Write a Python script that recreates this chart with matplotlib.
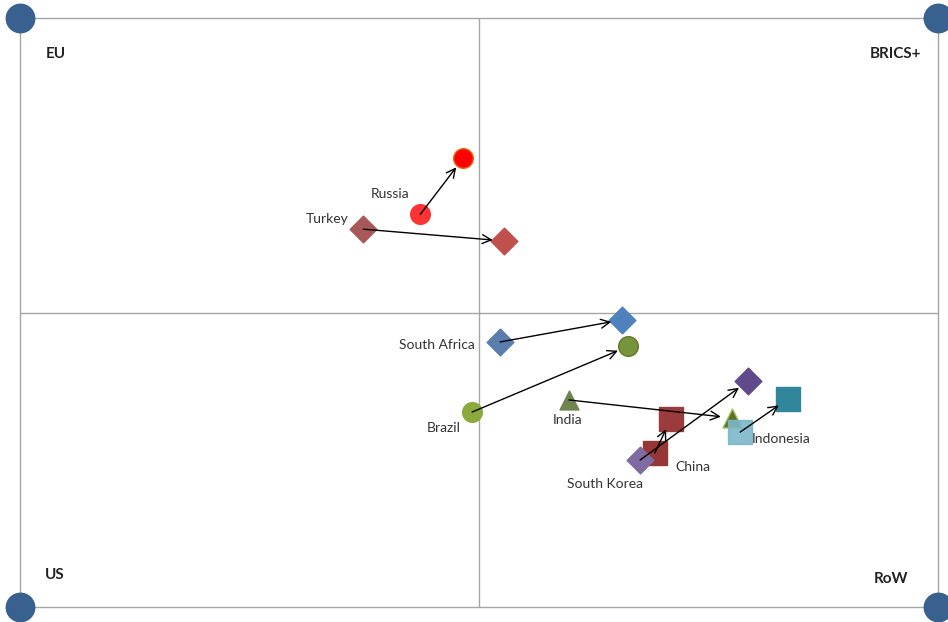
import numpy as np
import matplotlib.pyplot as plt
from matplotlib.patches import FancyArrowPatch

plt.rcParams['font.family'] = ['Lato', 'DejaVu Sans']

# country moves: start -> end, in a -1..1 square
countries = ['Russia', 'Turkey', 'South Africa', 'Brazil', 'India', 'China', 'South Korea', 'Indonesia']
x_start = [-0.128, -0.252, 0.046, -0.015, 0.196, 0.383, 0.351, 0.569]
y_start = [0.333, 0.283, -0.100, -0.338, -0.297, -0.477, -0.501, -0.406]
x_end = [-0.035, 0.054, 0.312, 0.325, 0.551, 0.418, 0.586, 0.673]
y_end = [0.523, 0.243, -0.025, -0.115, -0.358, -0.362, -0.233, -0.294]

markers = ['o', 'D', 'D', 'o', '^', 's', 'D', 's']
col_start = ['#FF3333', '#A85858', '#5A7DAE', '#8AAA3C', '#6E8550', '#953735', '#7F6AA2', '#7BB7C8']
col_end = ['#FF0000', '#C0504D', '#4F81BD', '#77933C', '#5A7228', '#9B3B3B', '#604A8C', '#31869B']
edge_end = ['#E46C0A', '#C0504D', '#4F81BD', '#5F7A2A', '#9BBB59', '#9B3B3B', '#604A8C', '#31869B']
sizes = [200, 185, 185, 200, 185, 290, 185, 290]

label_x = [-0.193, -0.330, -0.091, -0.076, 0.194, 0.467, 0.275, 0.658]
label_y = [0.402, 0.317, -0.111, -0.392, -0.366, -0.524, -0.583, -0.430]

corner_labels = ['EU', 'BRICS+', 'US', 'RoW']
corner_x = [-0.943, 0.963, -0.945, 0.935]
corner_y = [0.878, 0.878, -0.891, -0.905]
corner_ha = ['left', 'right', 'left', 'right']

fig = plt.figure(figsize=(9.48, 6.22), dpi=100)
ax = fig.add_axes([20 / 948, 15 / 622, 918 / 948, 589 / 622])
ax.set_xlim(-1, 1)
ax.set_ylim(-1, 1)
ax.axis('off')

grid_c = '#A6A6A6'
ax.plot([-1, 1, 1, -1, -1], [-1, -1, 1, 1, -1], color=grid_c, lw=1, zorder=1,
        clip_on=False)
ax.axhline(0, color=grid_c, lw=1, zorder=1)
ax.axvline(0, color=grid_c, lw=1, zorder=1)

ax.scatter([-1, 1, -1, 1], [1, 1, -1, -1], s=420, color='#386190',
           zorder=5, clip_on=False)

for i, name in enumerate(countries):
    ax.scatter(x_start[i], y_start[i], s=sizes[i], marker=markers[i],
               color=col_start[i], edgecolors=col_start[i], zorder=3,
               alpha=0.9 if name == 'Indonesia' else 1)
    ax.scatter(x_end[i], y_end[i], s=sizes[i], marker=markers[i],
               color=col_end[i], edgecolors=edge_end[i], linewidths=1, zorder=3)
    arr = FancyArrowPatch((x_start[i], y_start[i]), (x_end[i], y_end[i]),
                          arrowstyle='->', mutation_scale=16, color='black',
                          lw=1, shrinkA=0, shrinkB=8, zorder=4)
    ax.add_patch(arr)
    ax.text(label_x[i], label_y[i], name, fontsize=10, color='#333333',
            ha='center', va='center', zorder=6)

for lab, cx, cy, ha in zip(corner_labels, corner_x, corner_y, corner_ha):
    ax.text(cx, cy, lab, fontsize=11, fontweight='bold', color='#222222',
            ha=ha, va='center')

plt.savefig('out.png', dpi=100)
plt.close()
